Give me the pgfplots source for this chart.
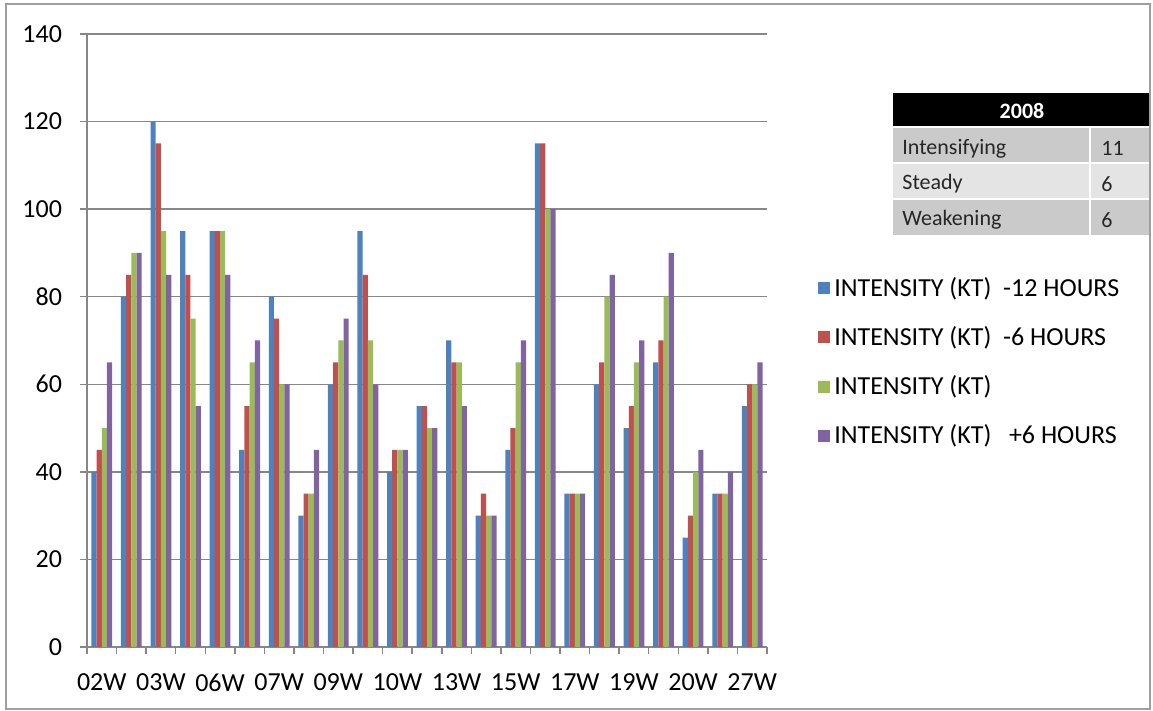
\documentclass[border=0pt]{standalone}
\usepackage{pgfplots}
\pgfplotsset{compat=1.18}
\usepackage{fontspec}
\setmainfont{Carlito}
\definecolor{cBlue}{HTML}{4F81BD}
\definecolor{cRed}{HTML}{C0504D}
\definecolor{cGreen}{HTML}{9BBB59}
\definecolor{cPurple}{HTML}{8064A2}
\definecolor{gridgrey}{HTML}{878787}
\definecolor{rowdark}{HTML}{CACACA}
\definecolor{rowlight}{HTML}{E4E4E4}
\begin{document}
\begin{tikzpicture}[x=0.5pt,y=0.5pt]
\path[use as bounding box] (0,0) rectangle (1153,711);
\draw[gridgrey!80, line width=0.75pt] (6,707) rectangle (1150,2);
\begin{axis}[
  at={(43.5pt,32pt)}, anchor=south west,
  scale only axis, width=340pt, height=306.5pt,
  ybar=0pt, bar width=2.6pt,
  xmin=0.5, xmax=23.5, ymin=0, ymax=140,
  enlarge x limits=false,
  ytick={0,20,...,140},
  xtick={1,3,...,23},
  xticklabels={02W,03W,06W,07W,09W,10W,13W,15W,17W,19W,20W,27W},
  minor xtick={0.5,1.5,...,23.5},
  axis x line*=bottom, axis y line*=left,
  ymajorgrids,
  grid style={color=gridgrey, line width=0.75pt},
  axis line style={color=gridgrey, line width=0.75pt},
  tick style={color=gridgrey, line width=0.75pt},
  major x tick style={draw=none},
  major tick length=3.5pt, minor tick length=3.5pt, tick align=outside,
  tick label style={font=\fontsize{13}{15}\selectfont, text=black},
  yticklabel style={xshift=-5.5pt},
  xticklabel style={yshift=-6.5pt},
  /pgf/number format/assume math mode=true,
  legend style={at={(1.066,0.617)}, anchor=north west, draw=none, fill=none,
    font=\fontsize{13}{15}\selectfont, row sep=9.6pt},
  legend cell align=left,
  legend image code/.code={\fill[#1] (0pt,-3pt) rectangle (6pt,3pt);},
]
\addplot[fill=cBlue, draw=none] coordinates {(1,40)(2,80)(3,120)(4,95)(5,95)(6,45)(7,80)(8,30)(9,60)(10,95)(11,40)(12,55)(13,70)(14,30)(15,45)(16,115)(17,35)(18,60)(19,50)(20,65)(21,25)(22,35)(23,55)};
\addplot[fill=cRed, draw=none] coordinates {(1,45)(2,85)(3,115)(4,85)(5,95)(6,55)(7,75)(8,35)(9,65)(10,85)(11,45)(12,55)(13,65)(14,35)(15,50)(16,115)(17,35)(18,65)(19,55)(20,70)(21,30)(22,35)(23,60)};
\addplot[fill=cGreen, draw=none] coordinates {(1,50)(2,90)(3,95)(4,75)(5,95)(6,65)(7,60)(8,35)(9,70)(10,70)(11,45)(12,50)(13,65)(14,30)(15,65)(16,100)(17,35)(18,80)(19,65)(20,80)(21,40)(22,35)(23,60)};
\addplot[fill=cPurple, draw=none] coordinates {(1,65)(2,90)(3,85)(4,55)(5,85)(6,70)(7,60)(8,45)(9,75)(10,60)(11,45)(12,50)(13,55)(14,30)(15,70)(16,100)(17,35)(18,85)(19,70)(20,90)(21,45)(22,40)(23,65)};
\legend{INTENSITY (KT)\ \ -12 HOURS, INTENSITY (KT)\ \ -6 HOURS, INTENSITY (KT), INTENSITY (KT)\ \ \ +6 HOURS}
\end{axis}
% summary table
\fill[black] (893,618) rectangle (1149,584);
\fill[rowdark] (893,584) rectangle (1149,548);
\fill[rowlight] (893,548) rectangle (1149,512);
\fill[rowdark] (893,512) rectangle (1149,476);
\draw[white, line width=1pt] (893,584) -- (1149,584) (893,548) -- (1149,548) (893,512) -- (1149,512) (1090,584) -- (1090,476);
\node[text=white, font=\fontsize{11}{13}\selectfont\bfseries] at (1022,600) {2008};
\begin{scope}[every node/.style={anchor=west, text=black!85, font=\fontsize{11}{13}\selectfont, inner sep=0pt}]
\node at (902,562) {Intensifying};
\node at (902,527) {Steady};
\node at (902,491) {Weakening};
\node at (1101,563) {11};
\node at (1101,527) {6};
\node at (1101,491) {6};
\end{scope}
\end{tikzpicture}
\end{document}
